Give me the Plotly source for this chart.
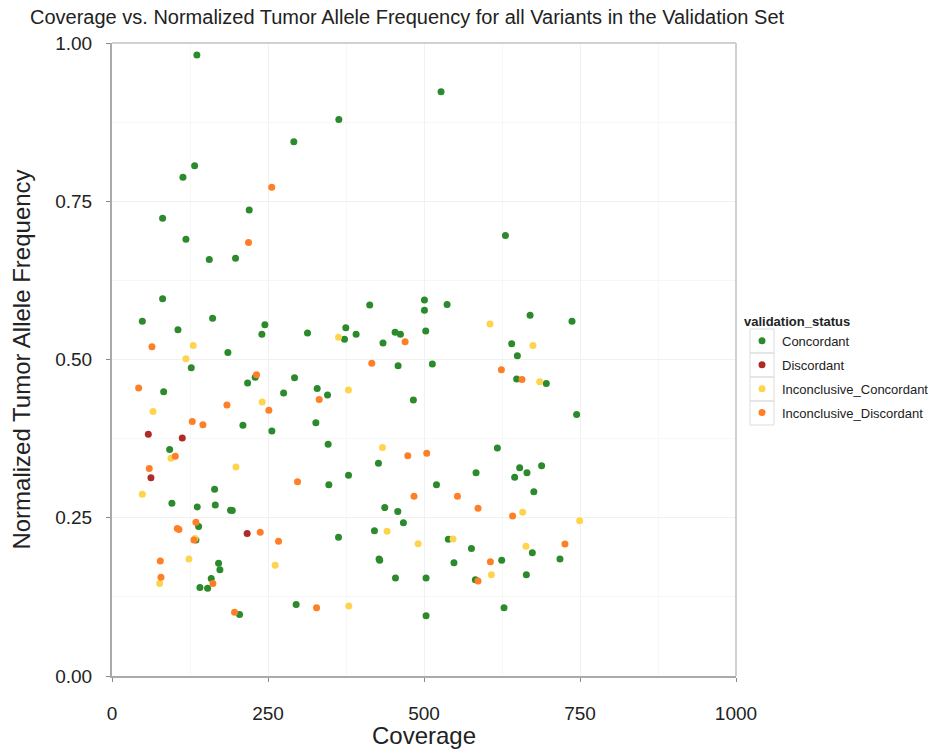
import plotly.graph_objects as go

categories = ["Concordant", "Discordant", "Inconclusive_Concordant", "Inconclusive_Discordant"]
colors = ["#2b8a2b", "#b02a2a", "#ffd44d", "#ff7f27"]

conc_x = [136, 363.5, 291.4, 132.4, 113.7, 219.9, 81.1, 118.5, 155.9, 198, 81.1, 413, 48.6, 161.2, 245, 105.7,
          240.2, 313.3, 374.7, 372.6, 391.2, 434.3, 453.7, 462.2, 185.7,
          527.3, 630.5, 500.7, 537, 500.7, 670, 737.2, 502.8, 640.5, 649.6,
          127, 229.5, 292.5, 217.3, 82.8, 275, 328.8, 209.8, 326.7, 256.2, 92.4, 164.4,
          458.5, 513.4, 648.5, 345.4, 483, 346.4, 427, 617.6, 583.4, 379, 653.3, 645.3, 347.5, 520,
          696, 744.6, 688.5, 665, 676,
          96, 136.6, 165.5, 190, 192.7, 138.8, 134.5, 170.8, 172.9, 159, 140.9, 153.2, 295.1, 204.4,
          437.1, 458, 467, 420.6, 363, 539, 576, 428, 429, 548, 624.5, 454.3, 503.3, 582.3, 503.3, 628.2,
          673.6, 717.9, 664]
conc_y = [0.981, 0.879, 0.844, 0.806, 0.788, 0.736, 0.723, 0.690, 0.658, 0.660, 0.596, 0.586, 0.5605, 0.565, 0.555, 0.547,
          0.540, 0.542, 0.550, 0.532, 0.540, 0.526, 0.543, 0.540, 0.511,
          0.923, 0.696, 0.594, 0.587, 0.578, 0.570, 0.5605, 0.545, 0.525, 0.506,
          0.487, 0.472, 0.471, 0.463, 0.449, 0.447, 0.454, 0.396, 0.400, 0.387, 0.358, 0.295,
          0.490, 0.493, 0.469, 0.444, 0.436, 0.366, 0.336, 0.360, 0.321, 0.317, 0.329, 0.314, 0.302, 0.302,
          0.462, 0.413, 0.332, 0.321, 0.291,
          0.273, 0.267, 0.270, 0.262, 0.2615, 0.236, 0.2148, 0.178, 0.168, 0.154, 0.140, 0.1385, 0.113, 0.097,
          0.266, 0.260, 0.242, 0.2295, 0.219, 0.216, 0.2016, 0.1847, 0.183, 0.179, 0.183, 0.1547, 0.155, 0.152, 0.095, 0.108,
          0.1947, 0.185, 0.160]

disc_x = [58.2, 112.6, 62.4, 216.6]
disc_y = [0.382, 0.376, 0.313, 0.2253]

iconc_x = [363, 130.2, 118.5, 605.8, 674.6, 240.7, 65.7, 94.5, 198.6, 48.6, 378.9, 433.4, 685.4, 132.9, 123.3,
           261.5, 76.3, 440.8, 490.5, 546.5, 608, 379.5, 658.1, 749.4, 663.4]
iconc_y = [0.535, 0.522, 0.501, 0.556, 0.522, 0.433, 0.418, 0.344, 0.330, 0.287, 0.452, 0.361, 0.465, 0.2174, 0.1847,
           0.175, 0.146, 0.2285, 0.209, 0.2163, 0.160, 0.1105, 0.2585, 0.2453, 0.205]

idisc_x = [256, 218.8, 469.7, 64, 231.7, 42.7, 332, 184.2, 251.4, 128.6, 145.7, 101.4, 59.7, 297.3, 416.3, 624,
           474, 504.4, 484, 553.6, 657, 134.5, 104.6, 107.3, 237.5, 131.3, 266.9, 77.4, 78.5, 161.7, 327.8,
           196.4, 586.6, 642, 606.4, 586.6, 725.9]
idisc_y = [0.772, 0.685, 0.528, 0.520, 0.476, 0.455, 0.437, 0.428, 0.420, 0.402, 0.397, 0.347, 0.328, 0.307, 0.494, 0.484,
           0.348, 0.352, 0.284, 0.284, 0.4685, 0.243, 0.233, 0.2315, 0.227, 0.2148, 0.2127, 0.1816, 0.156, 0.146, 0.108,
           0.1006, 0.265, 0.2526, 0.1805, 0.150, 0.2085]

x_ticks = [0, 250, 500, 750, 1000]
y_ticks = [0.0, 0.25, 0.5, 0.75, 1.0]
y_tick_text = ["0.00", "0.25", "0.50", "0.75", "1.00"]

series = [(conc_x, conc_y), (disc_x, disc_y), (iconc_x, iconc_y), (idisc_x, idisc_y)]

FONT = "Liberation Sans, Arial, sans-serif"
fig = go.Figure()
for i, (name, col, (xs, ys)) in enumerate(zip(categories, colors, series)):
    fig.add_trace(go.Scatter(
        x=xs, y=ys, mode="markers", name=name, legendgroup=name,
        marker=dict(color=col, size=7, line=dict(width=0)),
    ))

W, H = 938, 749
L, R, T, B = 112, 202, 43, 73
pw, ph = W - L - R, H - T - B

def px_x(v):
    return (v - L) / pw

def px_y(v):
    return (H - B - v) / ph

fig.update_layout(
    width=W, height=H,
    margin=dict(l=L, r=R, t=T, b=B, autoexpand=False),
    paper_bgcolor="white", plot_bgcolor="white",
    font=dict(family=FONT, color="#222"),
    title=dict(text="Coverage vs. Normalized Tumor Allele Frequency for all Variants in the Validation Set",
               x=30 / W, xanchor="left", y=1 - 17 / H, yanchor="middle",
               font=dict(size=20, color="#222", family=FONT)),
    showlegend=True,
    legend=dict(
        title=dict(text="<b>validation_status</b>", font=dict(size=13, color="#222")),
        xref="container", yref="container",
        x=742 / W, xanchor="left", y=1 - 309 / H, yanchor="top",
        font=dict(size=13, color="#222"),
        tracegroupgap=4, traceorder="grouped",
        bgcolor="rgba(0,0,0,0)",
    ),
)

fig.update_xaxes(
    range=[0, 1000], tickvals=x_ticks, ticks="outside", ticklen=4, tickcolor="#888",
    showline=True, linecolor="#aaa", linewidth=2, zeroline=False, automargin=False,
    showgrid=True, gridcolor="#f1f1f1", gridwidth=1,
    minor=dict(dtick=125, showgrid=True, gridcolor="#f7f7f7"),
    tickfont=dict(size=19, color="#222"), ticklabelstandoff=15,
    title=dict(text="Coverage", font=dict(size=24, color="#222"), standoff=6),
)
fig.update_yaxes(
    range=[0, 1], tickvals=y_ticks, ticktext=y_tick_text, ticks="outside", ticklen=4, tickcolor="#888",
    showline=True, linecolor="#aaa", linewidth=2, zeroline=False, automargin=False,
    showgrid=True, gridcolor="#f1f1f1", gridwidth=1,
    minor=dict(dtick=0.125, showgrid=True, gridcolor="#f7f7f7"),
    tickfont=dict(size=19, color="#222"), ticklabelstandoff=10,
    title=dict(text="Normalized Tumor Allele Frequency", font=dict(size=24, color="#222"), standoff=18),
)
# light frame on top and right
fig.add_shape(type="line", xref="paper", yref="paper", x0=0, x1=1, y0=1, y1=1, line=dict(color="#d0d0d0", width=2))
fig.add_shape(type="line", xref="paper", yref="paper", x0=1, x1=1, y0=0, y1=1, line=dict(color="#d0d0d0", width=2))
# legend key boxes
for k in range(4):
    top = 329 + 24 * k
    fig.add_shape(type="rect", xref="paper", yref="paper",
                  x0=px_x(750), x1=px_x(774), y0=px_y(top), y1=px_y(top + 24),
                  line=dict(color="#dddddd", width=1), fillcolor="rgba(0,0,0,0)")

fig.write_html("out.html")
